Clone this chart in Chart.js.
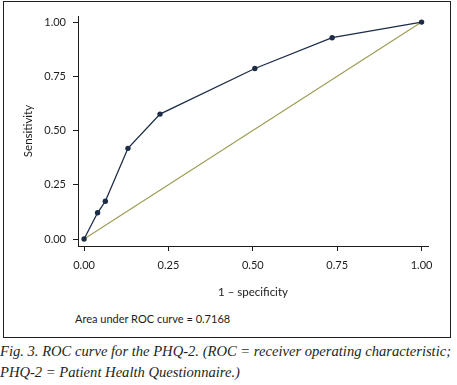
<!DOCTYPE html>
<html>
<head>
<meta charset="utf-8">
<script src="https://cdn.jsdelivr.net/npm/chart.js@4/dist/chart.umd.min.js"></script>
<style>
  html, body { margin: 0; padding: 0; background: #ffffff; }
  body { width: 457px; height: 385px; position: relative; overflow: hidden; }
  #frame { position: absolute; left: 3px; top: 1px; width: 448px; height: 337px; box-sizing: border-box; border: 1px solid #231f20; }
  #wrap { position: absolute; left: 0; top: 0; width: 457px; height: 300px; }
  #note { position: absolute; left: 75px; top: 312px; font-family: Lato, sans-serif; font-size: 11px; line-height: 13px; color: #1e1b1c; white-space: nowrap; }
  #caption { position: absolute; left: 0px; top: 341px; font-family: "Liberation Serif", serif; font-style: italic; font-size: 14.6px; line-height: 20.5px; color: #231f20; white-space: nowrap; }
</style>
</head>
<body>
<div id="frame"></div>
<div id="wrap"><canvas id="c"></canvas></div>
<div id="note">Area under ROC curve = 0.7168</div>
<div id="caption">Fig. 3. ROC curve for the PHQ-2. (ROC = receiver operating characteristic;<br>PHQ-2 = Patient Health Questionnaire.)</div>
<script>
// ---- data ----
const oneMinusSpecificity = [0, 0.040, 0.063, 0.130, 0.225, 0.506, 0.735, 1];
const sensitivity        = [0, 0.121, 0.174, 0.418, 0.576, 0.786, 0.928, 1];
const referenceX = [0, 1];
const referenceY = [0, 1];
const xTickValues = [0, 0.25, 0.5, 0.75, 1];
const xTickLabels = ['0.00', '0.25', '0.50', '0.75', '1.00'];
const yTickValues = [0, 0.25, 0.5, 0.75, 1];
const yTickLabels = ['0.00', '0.25', '0.50', '0.75', '1.00'];
const xTitle = '1 \u2013 specificity';
const yTitle = 'Sensitivity';

const ink = '#1e1b1c';
const tickFont = { family: 'Lato, sans-serif', size: 11 };
const titleFont = { family: 'Lato, sans-serif', size: 11.5 };

const rocPoints = oneMinusSpecificity.map((x, i) => ({ x: x, y: sensitivity[i] }));
const refPoints = referenceX.map((x, i) => ({ x: x, y: referenceY[i] }));

function labelFor(values, labels) {
  return function (v) {
    const i = values.findIndex(t => Math.abs(t - v) < 1e-9);
    return i >= 0 ? labels[i] : '';
  };
}

new Chart(document.getElementById('c'), {
  type: 'scatter',
  data: {
    datasets: [
      {
        data: rocPoints,
        showLine: true,
        borderColor: '#1d2d48',
        backgroundColor: '#1d2d48',
        borderWidth: 1.3,
        pointRadius: 2.7,
        pointBorderWidth: 0,
        order: 1
      },
      {
        data: refPoints,
        showLine: true,
        borderColor: '#9c9c52',
        backgroundColor: '#9c9c52',
        borderWidth: 1.1,
        pointRadius: 0,
        order: 2
      }
    ]
  },
  options: {
    responsive: true,
    maintainAspectRatio: false,
    devicePixelRatio: 1,
    animation: false,
    clip: false,
    layout: { padding: { top: 16, right: 29, left: 0, bottom: 0 } },
    plugins: { legend: { display: false }, tooltip: { enabled: false } },
    scales: {
      x: {
        type: 'linear',
        min: -0.018,
        max: 1.019,
        afterBuildTicks: s => { s.ticks = xTickValues.map(v => ({ value: v })); },
        afterFit: s => { s.height = 54; },
        ticks: { font: tickFont, color: ink, padding: 8, maxRotation: 0, callback: labelFor(xTickValues, xTickLabels) },
        grid: { display: true, drawOnChartArea: false, drawTicks: true, tickLength: 5, color: ink, lineWidth: 1 },
        border: { display: true, color: ink, width: 1 },
        title: { display: true, text: xTitle, font: titleFont, color: ink, padding: { top: 0, bottom: 1.2 } }
      },
      y: {
        type: 'linear',
        min: -0.032,
        max: 1.028,
        afterBuildTicks: s => { s.ticks = yTickValues.map(v => ({ value: v })); },
        afterFit: s => { s.width = 78; },
        ticks: { font: tickFont, color: ink, padding: 7, callback: labelFor(yTickValues, yTickLabels) },
        grid: { display: true, drawOnChartArea: false, drawTicks: true, tickLength: 5, color: ink, lineWidth: 1 },
        border: { display: true, color: ink, width: 1 },
        title: { display: true, text: yTitle, font: titleFont, color: ink, padding: { top: 21, bottom: 0 } }
      }
    }
  }
});
</script>
</body>
</html>
